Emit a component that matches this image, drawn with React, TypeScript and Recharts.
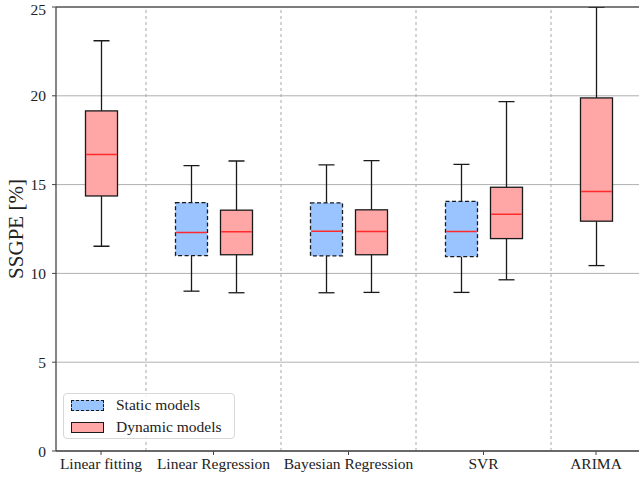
import React from "react";
import {
  ComposedChart,
  Bar,
  XAxis,
  YAxis,
  CartesianGrid,
  ReferenceLine,
  Label,
} from "recharts";

const categories = ["Linear fitting", "Linear Regression", "Bayesian Regression", "SVR", "ARIMA"];
const categoryPositions = [0, 2.5, 5.5, 8.5, 11];
const dividers = [1, 4, 7, 10];
const yTicks = [0, 5, 10, 15, 20, 25];

// static models (no static box for Linear fitting / ARIMA)
const staticPositions = [2, 5, 8];
const staticMin = [9.0, 8.91, 8.93];
const staticQ1 = [11.0, 10.99, 10.95];
const staticMedian = [12.3, 12.37, 12.36];
const staticQ3 = [13.99, 13.97, 14.06];
const staticMax = [16.07, 16.11, 16.14];

// dynamic models
const dynamicPositions = [0, 3, 6, 9, 11];
const dynamicMin = [11.53, 8.91, 8.93, 9.64, 10.44];
const dynamicQ1 = [14.36, 11.05, 11.05, 11.96, 12.94];
const dynamicMedian = [16.7, 12.34, 12.36, 13.33, 14.61];
const dynamicQ3 = [19.15, 13.56, 13.58, 14.85, 19.88];
const dynamicMax = [23.1, 16.33, 16.35, 19.67, 27.5];

const STATIC_FILL = "#99c4ff";
const DYNAMIC_FILL = "#ffa6a6";
const EDGE = "#1a1a1a";
const MEDIAN = "#ff2a2a";
const FONT = "'Liberation Serif', 'DejaVu Serif', serif";

interface BoxRow {
  x: number;
  kind: "static" | "dynamic";
  min: number;
  q1: number;
  median: number;
  q3: number;
  max: number;
  base: number;
  lowWhisker: number;
  lowBox: number;
  highBox: number;
  highWhisker: number;
}

function makeRow(kind: "static" | "dynamic", x: number, min: number, q1: number, median: number, q3: number, max: number): BoxRow {
  return {
    x,
    kind,
    min,
    q1,
    median,
    q3,
    max,
    base: min,
    lowWhisker: q1 - min,
    lowBox: median - q1,
    highBox: q3 - median,
    highWhisker: max - q3,
  };
}

const rows: BoxRow[] = [
  ...dynamicPositions.map((x, i) =>
    makeRow("dynamic", x, dynamicMin[i], dynamicQ1[i], dynamicMedian[i], dynamicQ3[i], dynamicMax[i])
  ),
  ...staticPositions.map((x, i) =>
    makeRow("static", x, staticMin[i], staticQ1[i], staticMedian[i], staticQ3[i], staticMax[i])
  ),
].sort((a, b) => a.x - b.x);

const Empty = () => <g />;

const LowWhiskerShape = (props: any) => {
  const { x, y, width, height } = props;
  const cx = x + width / 2;
  return (
    <g stroke={EDGE} strokeWidth={1.3}>
      <line x1={cx} x2={cx} y1={y} y2={y + height} />
      <line x1={cx - width / 4} x2={cx + width / 4} y1={y + height} y2={y + height} />
    </g>
  );
};

const HighWhiskerShape = (props: any) => {
  const { x, y, width, height } = props;
  const cx = x + width / 2;
  return (
    <g stroke={EDGE} strokeWidth={1.3}>
      <line x1={cx} x2={cx} y1={y} y2={y + height} />
      <line x1={cx - width / 4} x2={cx + width / 4} y1={y} y2={y} />
    </g>
  );
};

// draws the whole box (Q1..Q3) from the upper half, using the same px-per-unit ratio
const BoxShape = (props: any) => {
  const { x, y, width, height, payload } = props;
  const row = payload as BoxRow;
  const pxPerUnit = height / (row.q3 - row.median);
  const medianY = y + height;
  const q1Y = medianY + (row.median - row.q1) * pxPerUnit;
  const isStatic = row.kind === "static";
  return (
    <g>
      <rect
        x={x}
        y={y}
        width={width}
        height={q1Y - y}
        fill={isStatic ? STATIC_FILL : DYNAMIC_FILL}
        stroke={EDGE}
        strokeWidth={1.3}
        strokeDasharray={isStatic ? "4 2.5" : undefined}
      />
      <line x1={x + 0.7} x2={x + width - 0.7} y1={medianY} y2={medianY} stroke={MEDIAN} strokeWidth={1.5} />
    </g>
  );
};

const YLabel = (props: any) => {
  const { viewBox } = props;
  const cx = 16;
  const cy = viewBox.y + viewBox.height / 2;
  return (
    <text
      x={cx}
      y={cy}
      transform={`rotate(-90, ${cx}, ${cy})`}
      textAnchor="middle"
      dominantBaseline="central"
      fill="#222"
      fontSize={21}
      fontFamily={FONT}
    >
      SSGPE [%]
    </text>
  );
};

export default function App() {
  return (
    <div style={{ position: "absolute", left: 0, top: 0, width: 639, height: 477, overflow: "hidden", background: "#fff" }}>
      <ComposedChart
        width={641}
        height={477}
        data={rows}
        margin={{ top: 7, right: 0, left: 0, bottom: 0 }}
        barGap={0}
      >
        <CartesianGrid vertical={false} stroke="#b0b0b0" strokeWidth={1} />
        {dividers.map((d) => (
          <ReferenceLine key={d} x={d} stroke="#a8a8a8" strokeDasharray="3 3" />
        ))}
        <ReferenceLine y={25} stroke="#222" strokeWidth={1.2} />
        <XAxis
          dataKey="x"
          type="number"
          domain={[-1, 12]}
          ticks={categoryPositions}
          interval={0}
          tickFormatter={(v: number) => categories[categoryPositions.indexOf(v)] ?? ""}
          height={26}
          tickSize={4}
          tickMargin={3}
          stroke="#444"
          tick={{ fill: "#222", fontSize: 15.5, fontFamily: FONT }}
          axisLine={{ stroke: "#444", strokeWidth: 1.3 }}
        />
        <YAxis
          type="number"
          domain={[0, 25]}
          ticks={yTicks}
          allowDataOverflow
          width={56}
          tickSize={4}
          tickMargin={6}
          stroke="#444"
          tick={{ fill: "#222", fontSize: 15.5, fontFamily: FONT }}
          axisLine={{ stroke: "#444", strokeWidth: 1.3 }}
        >
          <Label content={YLabel} />
        </YAxis>
        <Bar dataKey="base" stackId="box" barSize={32} shape={Empty} isAnimationActive={false} />
        <Bar dataKey="lowWhisker" stackId="box" barSize={32} shape={LowWhiskerShape} isAnimationActive={false} />
        <Bar dataKey="lowBox" stackId="box" barSize={32} shape={Empty} isAnimationActive={false} />
        <Bar dataKey="highBox" stackId="box" barSize={32} shape={BoxShape} isAnimationActive={false} />
        <Bar dataKey="highWhisker" stackId="box" barSize={32} shape={HighWhiskerShape} isAnimationActive={false} />
      </ComposedChart>
      <div
        style={{
          position: "absolute",
          left: 63,
          top: 393,
          width: 172,
          height: 46,
          border: "1px solid #d8d8d8",
          borderRadius: 4,
          background: "rgba(255,255,255,0.85)",
          fontFamily: FONT,
          fontSize: 15.5,
          color: "#222",
          boxSizing: "border-box",
        }}
      >
        <div style={{ position: "absolute", left: 7, top: 6, width: 31, height: 9, background: STATIC_FILL, border: "1.3px dashed #1a1a1a" }} />
        <div style={{ position: "absolute", left: 52, top: 2, lineHeight: "18px" }}>Static models</div>
        <div style={{ position: "absolute", left: 7, top: 28, width: 31, height: 9, background: DYNAMIC_FILL, border: "1.3px solid #1a1a1a" }} />
        <div style={{ position: "absolute", left: 52, top: 24, lineHeight: "18px" }}>Dynamic models</div>
      </div>
    </div>
  );
}
